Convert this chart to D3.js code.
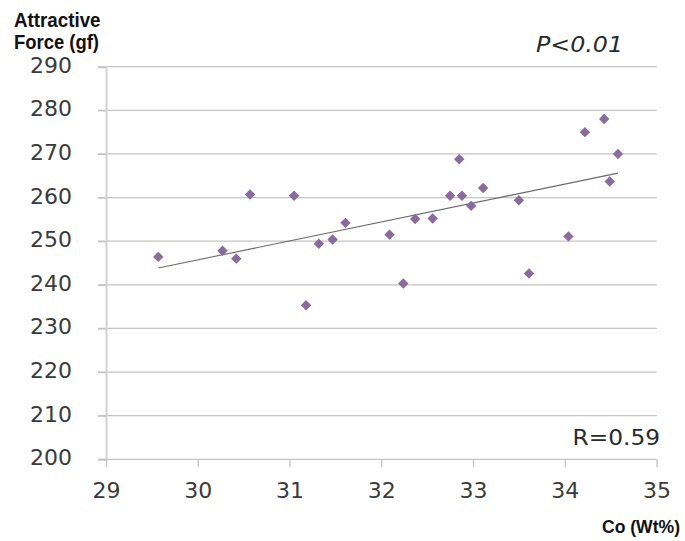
<!DOCTYPE html>
<html><head><meta charset="utf-8">
<script src="https://cdn.jsdelivr.net/npm/d3@7"></script>
<style>body{margin:0;background:#fff}svg{display:block}</style>
</head><body>
<svg id="chart" width="685" height="541"></svg>
<script>
const coValues = [29.57,30.27,30.42,30.57,31.05,31.18,31.32,31.47,31.61,32.09,32.24,32.37,32.56,32.75,32.85,32.88,32.98,33.11,33.50,33.61,34.04,34.22,34.43,34.49,34.58];
const forceValues = [246.4,247.8,246.0,260.7,260.4,235.3,249.4,250.4,254.2,251.5,240.3,255.1,255.2,260.4,268.8,260.4,258.1,262.2,259.4,242.6,251.1,275.0,278.0,263.7,270.0];
const trendX = [29.57,34.58];
const trendY = [243.85,265.6];
const xTicks = [29,30,31,32,33,34,35];
const yTicks = [200,210,220,230,240,250,260,270,280,290];
const yTitleLines = ["Attractive","Force (gf)"];
const xTitle = "Co (Wt%)";
const pLabel = "P<0.01";
const rLabel = "R=0.59";

const svg = d3.select("#chart");
const x = d3.scaleLinear().domain([29,35]).range([106,656.5]);
const y = d3.scaleLinear().domain([200,290]).range([459.3,66.7]);
const tickFont = "'DejaVu Sans', Verdana, sans-serif";
const boldFont = "'Liberation Sans Narrow','Liberation Sans',Arial,sans-serif";

// gridlines + y ticks
svg.append("g").selectAll("line").data(yTicks.filter(d=>d!==200)).join("line")
  .attr("x1",98).attr("x2",656.7)
  .attr("y1",d=>y(d)).attr("y2",d=>y(d))
  .attr("stroke","#c4c4c4").attr("stroke-width",1.3);

// y axis
const yAxis = svg.append("g").attr("transform","translate(106,0)")
  .call(d3.axisLeft(y).tickValues(yTicks).tickSize(8).tickPadding(26).tickFormat(d3.format("d")));
yAxis.select(".domain").attr("stroke","#d2d2d2").attr("stroke-width",2);
yAxis.selectAll(".tick line").attr("stroke","#c4c4c4").attr("stroke-width",1.3);
yAxis.selectAll(".tick text").attr("font-family",tickFont).attr("font-size",22).attr("fill","#3a3a3a").attr("dy","0.25em");

// x axis
const xAxis = svg.append("g").attr("transform","translate(0,459.3)")
  .call(d3.axisBottom(x).tickValues(xTicks).tickSizeOuter(0).tickSize(8).tickPadding(15).tickFormat(d3.format("d")));
xAxis.select(".domain").attr("stroke","#c4c4c4").attr("stroke-width",1.3).attr("d","M98,0H656.5");
xAxis.selectAll(".tick line").attr("stroke","#c4c4c4").attr("stroke-width",1.3);
xAxis.selectAll(".tick text").attr("font-family",tickFont).attr("font-size",22).attr("fill","#3a3a3a");

// trend line
svg.append("line")
  .attr("x1",x(trendX[0])).attr("y1",y(trendY[0]))
  .attr("x2",x(trendX[1])).attr("y2",y(trendY[1]))
  .attr("stroke","#6a6a6a").attr("stroke-width",1.1);

// points
const pts = coValues.map((c,i)=>({c, f: forceValues[i]}));
svg.append("g").selectAll("path").data(pts).join("path")
  .attr("transform",d=>`translate(${x(d.c)},${y(d.f)})`)
  .attr("d","M0,-5.2L5.2,0L0,5.2L-5.2,0Z")
  .attr("fill","#8b6a9e");

// titles
svg.append("g").selectAll("text").data(yTitleLines).join("text")
  .attr("x",14).attr("y",(d,i)=>26.7+i*22.5)
  .attr("font-family",boldFont).attr("font-weight","bold").attr("font-size",20)
  .attr("fill","#111")
  .attr("textLength",(d,i)=>i===0?86.5:85).attr("lengthAdjust","spacingAndGlyphs")
  .text(d=>d);

svg.append("text").attr("x",602).attr("y",533)
  .attr("font-family",boldFont).attr("font-weight","bold").attr("font-size",18)
  .attr("fill","#111").attr("textLength",78).attr("lengthAdjust","spacingAndGlyphs")
  .text(xTitle);

svg.append("text").attr("x",536).attr("y",52)
  .attr("font-family",tickFont).attr("font-style","italic").attr("font-size",21)
  .attr("fill","#2a2a2a").attr("textLength",87).attr("lengthAdjust","spacingAndGlyphs")
  .text(pLabel);

svg.append("text").attr("x",572.5).attr("y",445)
  .attr("font-family",tickFont).attr("font-size",21)
  .attr("fill","#2a2a2a").attr("textLength",87.5).attr("lengthAdjust","spacingAndGlyphs")
  .text(rLabel);
</script>
</body></html>
